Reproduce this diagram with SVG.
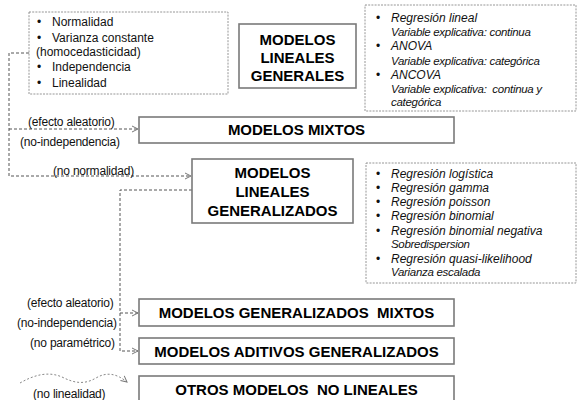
<svg xmlns="http://www.w3.org/2000/svg" width="577" height="400" viewBox="0 0 577 400">
<style>
  .box{fill:#fff;stroke:#7a7a7a;stroke-width:1.6}
  .dbox{fill:#fff;stroke:#8a8a8a;stroke-width:0.9;stroke-dasharray:2 1.2}
  .con{fill:none;stroke:#555;stroke-width:1;stroke-dasharray:3 2}
  .wave{fill:none;stroke:#888;stroke-width:1;stroke-dasharray:2 2}
  .title{font-family:"Liberation Sans",Arial,sans-serif;font-weight:bold;font-size:15px;fill:#000;text-anchor:middle}
  .t{font-family:"Liberation Sans",Arial,sans-serif;font-size:12px;fill:#111}
  .lab{font-family:"Liberation Sans",Arial,sans-serif;font-size:12px;fill:#111;letter-spacing:-0.2px}
  .it{font-family:"Liberation Sans",Arial,sans-serif;font-size:12px;font-style:italic;fill:#111}
  .sub{font-family:"Liberation Sans",Arial,sans-serif;font-size:11.5px;font-style:italic;fill:#111;letter-spacing:-0.3px}
</style>
<defs>
  <marker id="ah" markerWidth="8" markerHeight="8" refX="7" refY="4" orient="auto" markerUnits="userSpaceOnUse">
    <path d="M1,1 L7,4 L1,7" fill="none" stroke="#777" stroke-width="1"/>
  </marker>
</defs>

<g id="connectors">
  <path class="con" d="M29,53 H9 V176 H191" marker-end="url(#ah)"/>
  <path class="con" d="M9,129 H138" marker-end="url(#ah)"/>
  <path class="con" d="M192,190 H120 V351 H138" marker-end="url(#ah)"/>
  <path class="con" d="M120,313 H138" marker-end="url(#ah)"/>
  <path class="wave" d="M20,383 C34,375 48,371 62,377 C74,383 84,385 96,378 C106,372 116,373 127,382" marker-end="url(#ah)"/>
  <text class="lab" x="28" y="126">(efecto aleatorio)</text>
  <text class="lab" x="20" y="146">(no-independencia)</text>
  <text class="lab" x="53" y="175">(no normalidad)</text>
  <text class="lab" x="27" y="307">(efecto aleatorio)</text>
  <text class="lab" x="17" y="327">(no-independencia)</text>
  <text class="lab" x="30" y="347">(no paramétrico)</text>
  <text class="lab" x="33" y="398">(no linealidad)</text>
</g>

<g id="supuestos">
  <rect class="dbox" x="29" y="12" width="199" height="82"/>
  <text class="t" x="37" y="26">•</text><text class="t" x="52" y="26">Normalidad</text>
  <text class="t" x="37" y="42">•</text><text class="t" x="52" y="42">Varianza constante</text>
  <text class="t" x="36" y="56">(homocedasticidad)</text>
  <text class="t" x="37" y="71">•</text><text class="t" x="52" y="71">Independencia</text>
  <text class="t" x="37" y="87">•</text><text class="t" x="52" y="87">Linealidad</text>
</g>

<g id="mlg">
  <rect class="box" x="239" y="24" width="117" height="64"/>
  <text class="title" x="297.5" y="45">MODELOS</text>
  <text class="title" x="297.5" y="63">LINEALES</text>
  <text class="title" x="297.5" y="81">GENERALES</text>
</g>

<g id="mlg-lista">
  <rect class="dbox" x="365" y="5" width="211" height="106"/>
  <text class="t" x="376" y="22">•</text><text class="it" x="391" y="22">Regresión lineal</text>
  <text class="sub" x="391" y="36">Variable explicativa: continua</text>
  <text class="t" x="376" y="50">•</text><text class="it" x="391" y="50">ANOVA</text>
  <text class="sub" x="391" y="65">Variable explicativa: categórica</text>
  <text class="t" x="376" y="79">•</text><text class="it" x="391" y="79">ANCOVA</text>
  <text class="sub" x="391" y="93" xml:space="preserve">Variable explicativa:  continua y</text>
  <text class="sub" x="391" y="106">categórica</text>
</g>

<g id="mixtos">
  <rect class="box" x="139" y="117" width="315" height="26"/>
  <text class="title" x="296.5" y="135">MODELOS MIXTOS</text>
</g>

<g id="mlgz">
  <rect class="box" x="192" y="159" width="161" height="64"/>
  <text class="title" x="272.5" y="178">MODELOS</text>
  <text class="title" x="272.5" y="197">LINEALES</text>
  <text class="title" x="272.5" y="216">GENERALIZADOS</text>
</g>

<g id="mlgz-lista">
  <rect class="dbox" x="366" y="163" width="210" height="120"/>
  <text class="t" x="376" y="178">•</text><text class="it" x="391" y="178">Regresión logística</text>
  <text class="t" x="376" y="192">•</text><text class="it" x="391" y="192">Regresión gamma</text>
  <text class="t" x="376" y="206">•</text><text class="it" x="391" y="206">Regresión poisson</text>
  <text class="t" x="376" y="220">•</text><text class="it" x="391" y="220">Regresión binomial</text>
  <text class="t" x="376" y="235">•</text><text class="it" x="391" y="235">Regresión binomial negativa</text>
  <text class="sub" x="391" y="248">Sobredispersion</text>
  <text class="t" x="376" y="263">•</text><text class="it" x="391" y="263">Regresión quasi-likelihood</text>
  <text class="sub" x="391" y="276">Varianza escalada</text>
</g>

<g id="mgm">
  <rect class="box" x="139" y="299" width="315" height="27"/>
  <text class="title" x="296.5" y="318" xml:space="preserve">MODELOS GENERALIZADOS  MIXTOS</text>
</g>

<g id="mag">
  <rect class="box" x="139" y="338" width="315" height="26"/>
  <text class="title" x="296.5" y="357">MODELOS ADITIVOS GENERALIZADOS</text>
</g>

<g id="otros">
  <rect class="box" x="139" y="376" width="315" height="28"/>
  <text class="title" x="296.5" y="395" xml:space="preserve">OTROS MODELOS  NO LINEALES</text>
</g>
</svg>
